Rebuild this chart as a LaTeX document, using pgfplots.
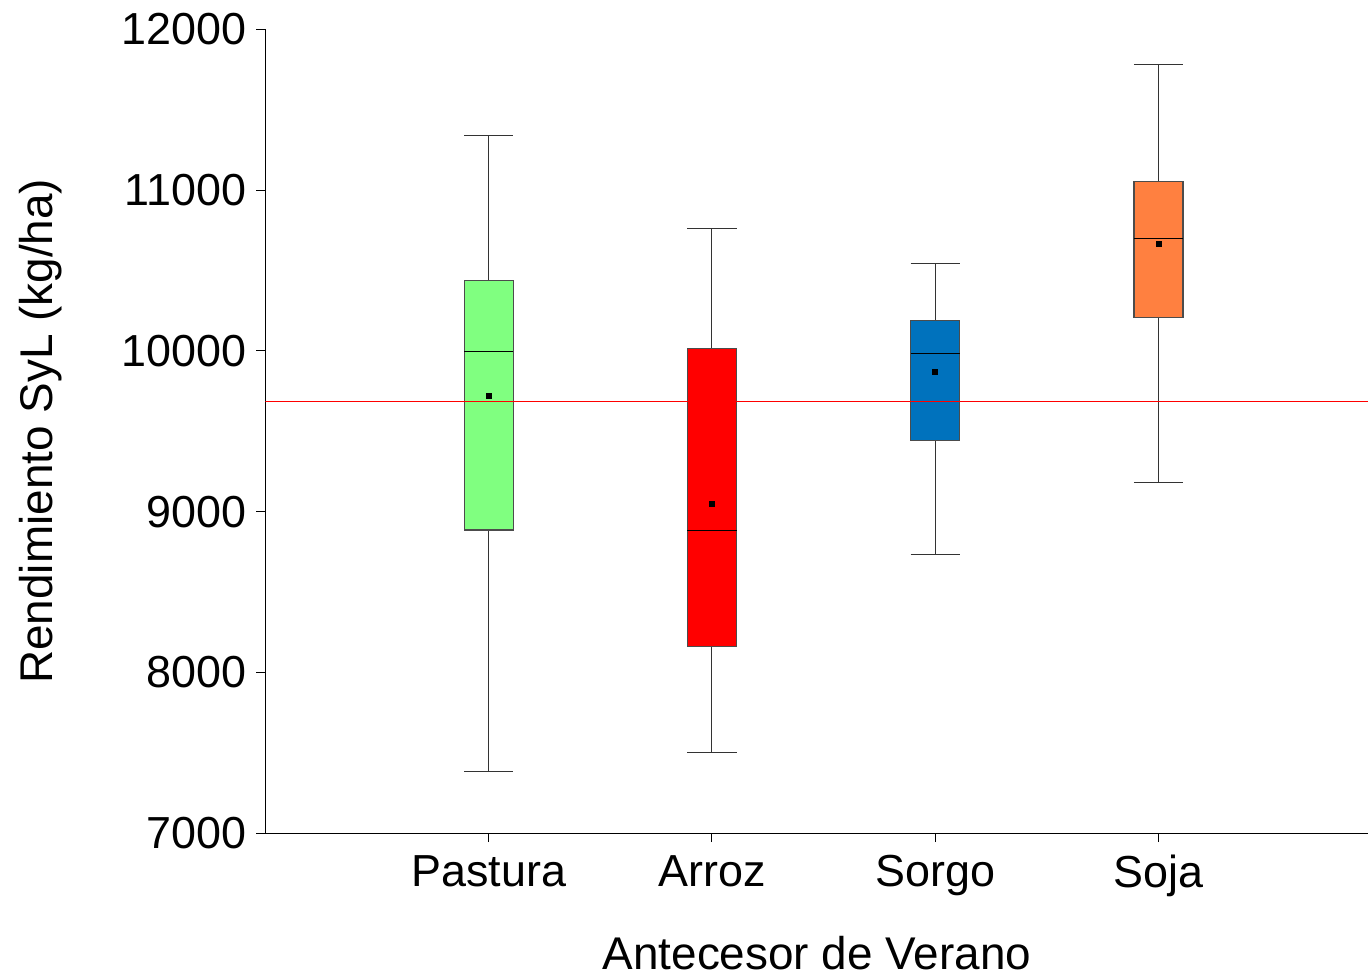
\documentclass[border=0pt]{standalone}
\usepackage{fontspec}
\setmainfont{Liberation Sans}
\usepackage{pgfplots}
\pgfplotsset{compat=1.18}
\definecolor{cgreen}{RGB}{128,255,128}
\definecolor{cred}{RGB}{255,0,0}
\definecolor{cblue}{RGB}{0,114,189}
\definecolor{corange}{RGB}{255,128,64}
\definecolor{refline}{RGB}{255,0,0}
\begin{document}
\begin{tikzpicture}
\begin{axis}[
  scale only axis, width=553pt, height=403pt,
  xmin=0, xmax=4.94, ymin=7000, ymax=12000,
  axis x line*=bottom, axis y line*=left,
  xtick={1,2,3,4}, xticklabels={Pastura,Arroz,Sorgo,Soja},
  ytick={7000,8000,9000,10000,11000,12000},
  scaled y ticks=false,
  tick align=outside, major tick length=4.5pt,
  tick style={black, line width=0.5pt},
  axis line style={line width=0.6pt},
  tick label style={font=\fontsize{22.5}{25}\selectfont},
  xticklabel style={yshift=-3pt},
  yticklabel style={xshift=-1.5pt},
  /pgf/number format/assume math mode=true,
  /pgf/number format/set thousands separator={},
  xlabel={Antecesor de Verano}, ylabel={Rendimiento SyL (kg/ha)},
  label style={font=\fontsize{23}{26}\selectfont},
  xlabel style={yshift=-13pt},
  ylabel style={inner sep=9.5pt, yshift=17pt},
  title={\rule{0pt}{8.5pt}},
  title style={inner sep=0pt},
  unbounded coords=jump,
]
% whiskers
\addplot[black!80, line width=0.5pt] coordinates {(1,10437)(1,11342) (1,nan) (0.89,11342)(1.11,11342) (1,nan) (1,8886)(1,7385) (1,nan) (0.89,7385)(1.11,7385)};
\addplot[black!80, line width=0.5pt] coordinates {(2,10015)(2,10759) (2,nan) (1.89,10759)(2.11,10759) (2,nan) (2,8160)(2,7502) (2,nan) (1.89,7502)(2.11,7502)};
\addplot[black!80, line width=0.5pt] coordinates {(3,10189)(3,10542) (3,nan) (2.89,10542)(3.11,10542) (3,nan) (3,9444)(3,8731) (3,nan) (2.89,8731)(3.11,8731)};
\addplot[black!80, line width=0.5pt] coordinates {(4,11051)(4,11783) (4,nan) (3.89,11783)(4.11,11783) (4,nan) (4,10207)(4,9184) (4,nan) (3.89,9184)(4.11,9184)};
% boxes
\addplot[fill=cgreen, draw=black!70, line width=0.6pt] coordinates {(0.89,8886) (1.11,8886) (1.11,10437) (0.89,10437)} -- cycle;
\addplot[fill=cred, draw=black!70, line width=0.6pt] coordinates {(1.89,8160) (2.11,8160) (2.11,10015) (1.89,10015)} -- cycle;
\addplot[fill=cblue, draw=black!70, line width=0.6pt] coordinates {(2.89,9444) (3.11,9444) (3.11,10189) (2.89,10189)} -- cycle;
\addplot[fill=corange, draw=black!70, line width=0.6pt] coordinates {(3.89,10207) (4.11,10207) (4.11,11051) (3.89,11051)} -- cycle;
% medians
\addplot[black, line width=0.6pt] coordinates {(0.89,9996)(1.11,9996) (1,nan) (1.89,8880)(2.11,8880) (2,nan) (2.89,9984)(3.11,9984) (3,nan) (3.89,10697)(4.11,10697)};
% reference line
\addplot[draw=refline, line width=0.75pt] coordinates {(0,9686) (4.94,9686)};
% means
\addplot[only marks, mark=square*, mark size=1.25pt, black] coordinates {(1,9717) (2,9047) (3,9866) (4,10666)};
\end{axis}
\end{tikzpicture}
\end{document}
